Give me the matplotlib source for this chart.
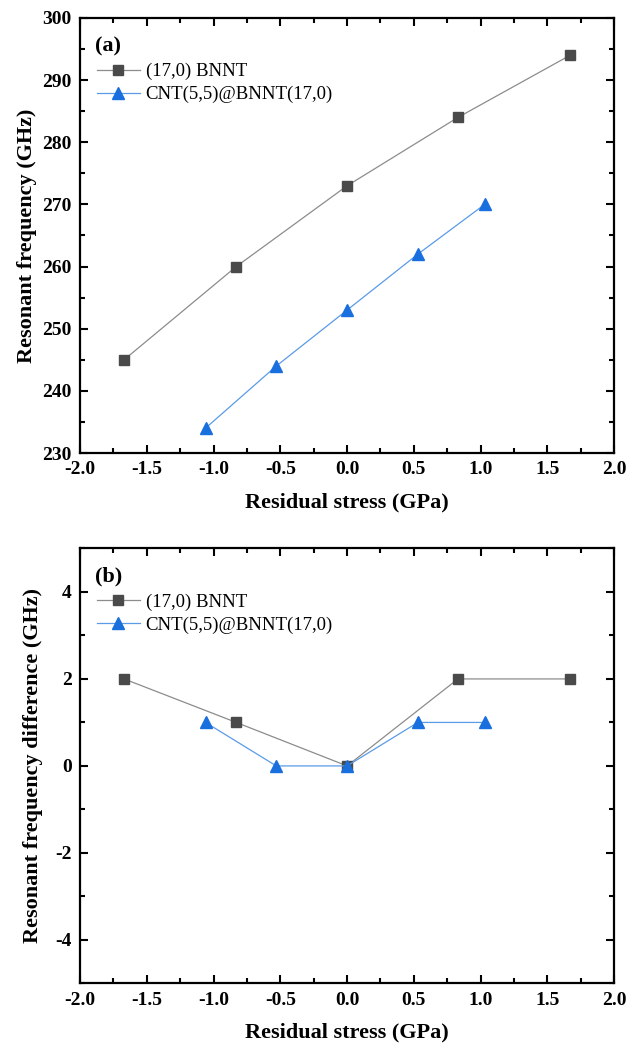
import matplotlib

matplotlib.use("Agg")
import matplotlib.pyplot as plt
from matplotlib.ticker import MultipleLocator

# datos
x_bnnt = [-1.67, -0.83, 0.0, 0.83, 1.67]
x_cnt = [-1.06, -0.53, 0.0, 0.53, 1.03]
freq_bnnt = [245, 260, 273, 284, 294]
freq_cnt = [234, 244, 253, 262, 270]
diff_bnnt = [2, 1, 0, 2, 2]
diff_cnt = [1, 0, 0, 1, 1]
labels = ["(17,0) BNNT", "CNT(5,5)@BNNT(17,0)"]

_GRAY_LINE = "#8c8c8c"
_GRAY_MARK = "#4a4a4a"
_BLUE = "#1a6fdf"
_BLUE_LINE = "#5a9be8"

plt.rcParams["font.family"] = ["Liberation Serif", "DejaVu Serif"]
plt.rcParams["axes.unicode_minus"] = False

fig = plt.figure(figsize=(6.27, 10.45), dpi=100)
ax1 = fig.add_axes([0.1276, 0.5665, 0.852, 0.4163])
ax2 = fig.add_axes([0.1276, 0.0589, 0.852, 0.4163])


def style(ax, ymajor, yminor):
    ax.set_xlim(-2.0, 2.0)
    ax.xaxis.set_major_locator(MultipleLocator(0.5))
    ax.xaxis.set_minor_locator(MultipleLocator(0.25))
    ax.yaxis.set_major_locator(MultipleLocator(ymajor))
    ax.yaxis.set_minor_locator(MultipleLocator(yminor))
    ax.tick_params(which="both", direction="in", top=True, right=True,
                   width=1.5, labelsize=14, pad=6)
    ax.tick_params(which="major", length=6)
    ax.tick_params(which="minor", length=3.5)
    for lab in ax.get_xticklabels() + ax.get_yticklabels():
        lab.set_fontweight("bold")
    for sp in ax.spines.values():
        sp.set_linewidth(1.6)
    ax.set_xlabel("Residual stress (GPa)", fontsize=16, fontweight="bold", labelpad=10)


def draw(ax, yb, yc):
    ax.plot(x_bnnt, yb, color=_GRAY_LINE, linewidth=0.9, marker="s", markersize=7.5,
            markerfacecolor=_GRAY_MARK, markeredgecolor=_GRAY_MARK, label=labels[0])
    ax.plot(x_cnt, yc, color=_BLUE_LINE, linewidth=0.9, marker="^", markersize=8.5,
            markerfacecolor=_BLUE, markeredgecolor=_BLUE, label=labels[1])
    ax.legend(loc="upper left", bbox_to_anchor=(0.0, 0.935), frameon=False,
              fontsize=13.5, handlelength=2.3, handletextpad=0.3,
              labelspacing=0.3, borderaxespad=0.5)


draw(ax1, freq_bnnt, freq_cnt)
style(ax1, 10, 5)
ax1.set_ylim(230, 300)
ax1.set_ylabel("Resonant frequency (GHz)", fontsize=16, fontweight="bold", labelpad=4)
ax1.text(0.028, 0.935, "(a)", transform=ax1.transAxes, fontsize=16,
         fontweight="bold", va="center")

draw(ax2, diff_bnnt, diff_cnt)
style(ax2, 2, 1)
ax2.set_ylim(-5, 5)
ax2.set_ylabel("Resonant frequency difference (GHz)", fontsize=16,
               fontweight="bold", labelpad=9)
ax2.text(0.028, 0.935, "(b)", transform=ax2.transAxes, fontsize=16,
         fontweight="bold", va="center")

fig.savefig("out.png", dpi=100)
